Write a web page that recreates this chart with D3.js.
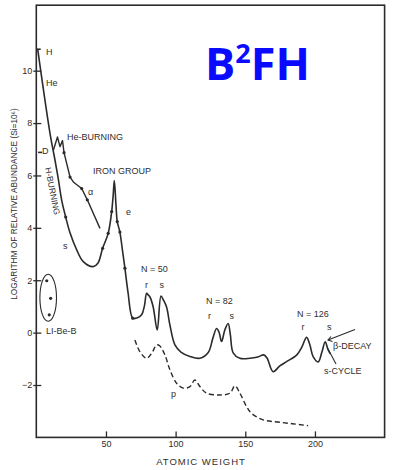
<!DOCTYPE html>
<html>
<head>
<meta charset="utf-8">
<script src="https://cdn.jsdelivr.net/npm/d3@7"></script>
<style>
  body { margin: 0; background: #fff; }
  svg text { font-family: "Liberation Sans", "DejaVu Sans", sans-serif; fill: #2e2e2e; }
</style>
</head>
<body>
<svg id="chart" width="409" height="470"></svg>
<script>
// Schematic abundance curve: log abundance (Si = 10^6) against atomic weight A.
const mainCurve = [
  [1.0, 10.82], [9.8, 7.62], [13.4, 6.59], [15.9, 5.83], [18.2, 5.06], [21.1, 4.41],
  [24.2, 3.81], [29.0, 3.16], [33.7, 2.71], [40.9, 2.52], [44.3, 2.66], [47.6, 3.22],
  [51.6, 3.79], [54.1, 4.62], [55.2, 5.26], [56.0, 5.81], [57.2, 4.87], [58.1, 4.24],
  [60.0, 3.84], [61.8, 3.16], [63.6, 2.46], [65.8, 1.55], [69.2, 0.55], [72.2, 0.56],
  [75.6, 0.68], [77.6, 1.02], [79.2, 1.50], [80.3, 1.44], [81.6, 1.36], [83.9, 0.98],
  [86.8, 0.10], [89.5, 1.40], [91.2, 1.25], [93.5, 0.98], [95.9, 0.29], [99.5, -0.47],
  [103.8, -0.74], [110.3, -0.91], [117.4, -0.98], [123.4, -0.76], [126.8, -0.20],
  [129.4, 0.16], [131.1, 0.03], [133.0, -0.34], [135.3, 0.10], [137.7, 0.35],
  [139.3, -0.09], [141.3, -0.77], [146.1, -0.98], [153.3, -0.98], [159.0, -0.93],
  [163.3, -0.85], [165.7, -0.98], [170.0, -1.49], [174.8, -1.27], [179.9, -1.10],
  [187.0, -0.85], [190.6, -0.55], [194.0, -0.18], [196.4, -0.47], [198.7, -0.92],
  [202.3, -1.12], [205.0, -0.74], [207.4, -0.35], [209.2, -0.62], [211.0, -0.81]
];

// He-burning peaks (C, O) and the alpha-process branch
const alphaCurve = [
  [12.3, 6.97], [15.2, 7.47], [17.0, 7.10], [18.8, 7.33], [19.9, 6.87],
  [24.2, 5.94], [27.0, 5.73], [32.6, 5.50], [36.6, 5.07], [45.7, 3.98]
];

// p-process curve (dashed)
const pCurve = [
  [70.8, -0.28], [74.4, -0.73], [79.2, -0.98], [82.8, -0.79], [86.4, -0.47],
  [88.7, -0.51], [92.3, -0.85], [95.9, -1.42], [100.7, -1.93], [105.5, -2.12],
  [110.3, -2.06], [113.8, -1.81], [117.4, -2.06], [122.2, -2.31], [131.8, -2.38],
  [139.0, -2.31], [142.6, -2.03], [146.1, -2.31], [150.9, -2.82], [154.5, -3.08],
  [162.8, -3.33], [174.8, -3.42], [195.1, -3.55]
];

const mainDots = [
  [21.1, 4.41], [47.6, 3.22], [51.6, 3.79], [54.1, 4.62], [58.1, 4.24],
  [60.0, 3.84], [63.6, 2.46], [69.2, 0.55]
];
const alphaDots = [[19.9, 6.87], [24.2, 5.94], [32.6, 5.50], [36.6, 5.07]];
const liBeB = [[7.5, 1.98], [10.3, 1.31], [9.3, 0.68]];
const lightMarks = [["H", 1.0, 10.82], ["D", 2.0, 6.88]];

const xTicks = [50, 100, 150, 200];
const yTicks = [-2, 0, 2, 4, 6, 8, 10];

const svg = d3.select("#chart");
const x = d3.scaleLinear().domain([0, 250]).range([36.3, 384.6]);
const y = d3.scaleLinear().domain([-4, 12.5]).range([437.4, 5.2]);
const ink = "#2b2b2b";

const line = d3.line().x(d => x(d[0])).y(d => y(d[1])).curve(d3.curveCatmullRom.alpha(0.5));

// frame
svg.append("rect")
  .attr("x", x(0)).attr("y", y(12.5))
  .attr("width", x(250) - x(0)).attr("height", y(-4) - y(12.5))
  .attr("fill", "none").attr("stroke", ink).attr("stroke-width", 1.6);

// x axis: short ticks pointing into the plot
const gx = svg.append("g").attr("transform", `translate(0,${y(-4)})`)
  .call(d3.axisBottom(x).tickValues(xTicks).tickSizeInner(-6).tickSizeOuter(0).tickPadding(3));
gx.select(".domain").remove();
gx.selectAll("line").attr("stroke", ink).attr("stroke-width", 1.3);
gx.selectAll("text").attr("font-size", 9).attr("fill", ink)
  .style("font-family", "'Liberation Sans', sans-serif");

// y axis: ticks crossing the frame
const gy = svg.append("g").attr("transform", `translate(${x(0)},0)`)
  .call(d3.axisLeft(y).tickValues(yTicks).tickSizeInner(3).tickSizeOuter(0).tickPadding(1));
gy.select(".domain").remove();
gy.selectAll("line").attr("x1", 5).attr("x2", -3).attr("stroke", ink).attr("stroke-width", 1.3);
gy.selectAll("text").attr("font-size", 9).attr("fill", ink)
  .style("font-family", "'Liberation Sans', sans-serif");

// axis titles
svg.append("text").attr("x", 201).attr("y", 465).attr("text-anchor", "middle")
  .attr("font-size", 9.5).attr("letter-spacing", 1).text("ATOMIC WEIGHT");
svg.append("text").attr("transform", "translate(17,204) rotate(-90)")
  .attr("text-anchor", "middle").attr("font-size", 8.3)
  .text("LOGARITHM OF RELATIVE ABUNDANCE (Si=10⁶)");

// curves
svg.append("path").datum(mainCurve).attr("d", line)
  .attr("fill", "none").attr("stroke", ink).attr("stroke-width", 1.6).attr("stroke-linejoin", "round");
svg.append("path").datum(alphaCurve).attr("d", d3.line().x(d => x(d[0])).y(d => y(d[1])))
  .attr("fill", "none").attr("stroke", ink).attr("stroke-width", 1.4).attr("stroke-linejoin", "round");
svg.append("path").datum(pCurve).attr("d", line)
  .attr("fill", "none").attr("stroke", ink).attr("stroke-width", 1.4).attr("stroke-dasharray", "5,3");

// data dots
svg.selectAll(".dot").data(mainDots.concat(alphaDots, liBeB)).join("circle")
  .attr("cx", d => x(d[0])).attr("cy", d => y(d[1])).attr("r", 1.6).attr("fill", ink);

// H and D marks
lightMarks.forEach(([name, a, v]) => {
  svg.append("line").attr("x1", x(a) - 1).attr("x2", x(a) + 3)
    .attr("y1", y(v)).attr("y2", y(v)).attr("stroke", ink).attr("stroke-width", 1.6);
});

// Li-Be-B ellipse
const lx = d3.extent(liBeB, d => d[0]), lv = d3.extent(liBeB, d => d[1]);
svg.append("ellipse")
  .attr("cx", x((lx[0] + lx[1]) / 2) - 0.5).attr("cy", y((lv[0] + lv[1]) / 2))
  .attr("rx", 8.3).attr("ry", 23.5)
  .attr("fill", "none").attr("stroke", ink).attr("stroke-width", 1.1);

// labels
const labels = [
  ["H", 46, 55, 9], ["He", 46, 86, 9], ["D", 42, 154, 9],
  ["He-BURNING", 67, 139.5, 9], ["α", 88, 195, 9], ["s", 63, 248.5, 9],
  ["IRON GROUP", 93, 173.5, 9], ["e", 126, 215, 9],
  ["N = 50", 141, 271.5, 9], ["r", 145, 288, 9], ["s", 159.5, 288, 9],
  ["N = 82", 206, 303.5, 9], ["r", 208, 318.5, 9], ["s", 229.5, 318.5, 9],
  ["N = 126", 297, 316.5, 9], ["r", 301.5, 330, 9], ["s", 327, 330, 9],
  ["β-DECAY", 333, 348.5, 9], ["s-CYCLE", 324, 373.5, 9],
  ["p", 171, 397, 9], ["LI-Be-B", 46, 333.5, 9]
];
svg.selectAll(".lbl").data(labels).join("text")
  .attr("x", d => d[1]).attr("y", d => d[2]).attr("font-size", d => d[3]).text(d => d[0]);

svg.append("text").attr("transform", "translate(45,168) rotate(79)")
  .attr("font-size", 8.5).text("H-BURNING");

// pointers for the beta-decay and s-cycle branches
svg.append("line").attr("x1", 328).attr("y1", 340).attr("x2", 355).attr("y2", 329.5)
  .attr("stroke", ink).attr("stroke-width", 1.1);
svg.append("path").attr("d", "M331,336.5 L328,340 L332.5,341.5")
  .attr("fill", "none").attr("stroke", ink).attr("stroke-width", 1.1);
svg.append("line").attr("x1", 327.5).attr("y1", 348).attr("x2", 336).attr("y2", 364)
  .attr("stroke", ink).attr("stroke-width", 1.1);

// title
const t = svg.append("text").attr("x", 205).attr("y", 80)
  .style("font-family", "'Open Sans', sans-serif").style("font-weight", 700)
  .style("fill", "#0a0aff").attr("font-size", 45);
t.append("tspan").text("B");
t.append("tspan").attr("font-size", 27).attr("dy", -17).text("2");
t.append("tspan").attr("dy", 17).text("FH");
</script>
</body>
</html>
